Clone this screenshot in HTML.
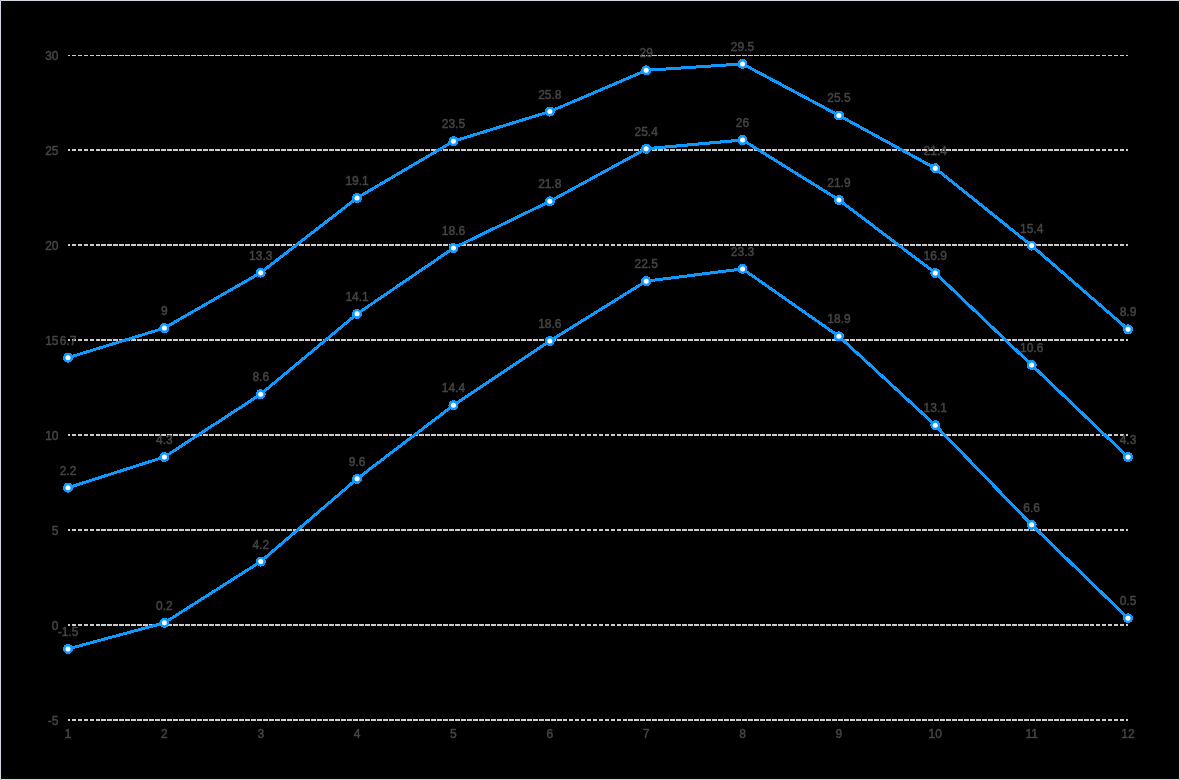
<!DOCTYPE html>
<html><head><meta charset="utf-8"><title>chart</title>
<style>
html,body{margin:0;padding:0;background:#000;}
body{width:1180px;height:780px;overflow:hidden;position:relative;font-family:"Liberation Sans",sans-serif;}
#frame{position:absolute;left:0;top:0;width:1178px;height:778px;border:1px solid #d3d8e0;border-radius:0.7px;background:#000;}
svg{position:absolute;left:0;top:0;display:block;}
text{font-family:"Liberation Sans",sans-serif;font-size:12px;fill:#454545;stroke:#454545;stroke-width:0.45px;}
</style></head><body>
<div id="frame"></div>
<svg width="1180" height="780" viewBox="0 0 1180 780">
<defs><clipPath id="gc"><rect x="68" y="55" width="1060" height="700"/></clipPath></defs>

<g clip-path="url(#gc)" stroke="#cccccc" stroke-width="2" stroke-dasharray="4.872 1.1167" stroke-dashoffset="2.44" shape-rendering="crispEdges">
<line x1="68" y1="55" x2="1128" y2="55"/>
<line x1="68" y1="150" x2="1128" y2="150"/>
<line x1="68" y1="245" x2="1128" y2="245"/>
<line x1="68" y1="340" x2="1128" y2="340"/>
<line x1="68" y1="435" x2="1128" y2="435"/>
<line x1="68" y1="530" x2="1128" y2="530"/>
<line x1="68" y1="625" x2="1128" y2="625"/>
<line x1="68" y1="720" x2="1128" y2="720"/>
</g>
<g style="filter:grayscale(1)">
<g text-anchor="end">
<text x="58.5" y="60.4">30</text>
<text x="58.5" y="155.4">25</text>
<text x="58.5" y="250.4">20</text>
<text x="58.5" y="345.4">15</text>
<text x="58.5" y="440.4">10</text>
<text x="58.5" y="535.4">5</text>
<text x="58.5" y="630.4">0</text>
<text x="58.5" y="725.4">-5</text>
</g>
<g text-anchor="middle">
<text x="68.00" y="738">1</text>
<text x="164.36" y="738">2</text>
<text x="260.73" y="738">3</text>
<text x="357.09" y="738">4</text>
<text x="453.45" y="738">5</text>
<text x="549.82" y="738">6</text>
<text x="646.18" y="738">7</text>
<text x="742.55" y="738">8</text>
<text x="838.91" y="738">9</text>
<text x="935.27" y="738">10</text>
<text x="1031.64" y="738">11</text>
<text x="1128.00" y="738">12</text>
</g>
<g text-anchor="middle">
<text x="68.00" y="635.91">-1.5</text>
<text x="164.36" y="609.86">0.2</text>
<text x="260.73" y="548.57">4.2</text>
<text x="357.09" y="465.83">9.6</text>
<text x="453.45" y="392.27">14.4</text>
<text x="549.82" y="327.92">18.6</text>
<text x="646.18" y="268.16">22.5</text>
<text x="742.55" y="255.90">23.3</text>
<text x="838.91" y="323.32">18.9</text>
<text x="935.27" y="412.19">13.1</text>
<text x="1031.64" y="511.79">6.6</text>
<text x="1128.00" y="605.26">0.5</text>
<text x="68.00" y="474.69">2.2</text>
<text x="164.36" y="444.02">4.3</text>
<text x="260.73" y="381.20">8.6</text>
<text x="357.09" y="300.85">14.1</text>
<text x="453.45" y="235.11">18.6</text>
<text x="549.82" y="188.36">21.8</text>
<text x="646.18" y="135.77">25.4</text>
<text x="742.55" y="127.00">26</text>
<text x="838.91" y="186.90">21.9</text>
<text x="935.27" y="259.94">16.9</text>
<text x="1031.64" y="351.98">10.6</text>
<text x="1128.00" y="444.02">4.3</text>
<text x="68.00" y="344.70">6.7</text>
<text x="164.36" y="315.06">9</text>
<text x="260.73" y="259.65">13.3</text>
<text x="357.09" y="184.91">19.1</text>
<text x="453.45" y="128.22">23.5</text>
<text x="549.82" y="98.58">25.8</text>
<text x="646.18" y="57.34">29</text>
<text x="742.55" y="50.90">29.5</text>
<text x="838.91" y="102.44">25.5</text>
<text x="935.27" y="155.28">21.4</text>
<text x="1031.64" y="232.59">15.4</text>
<text x="1128.00" y="316.35">8.9</text>
</g>
</g>
<polyline points="68.00,648.91 164.36,622.86 260.73,561.57 357.09,478.83 453.45,405.27 549.82,340.92 646.18,281.16 742.55,268.90 838.91,336.32 935.27,425.19 1031.64,524.79 1128.00,618.26" fill="none" stroke="#0e99ff" stroke-width="3" stroke-linejoin="round" stroke-linecap="round" shape-rendering="crispEdges"/>
<polyline points="68.00,487.69 164.36,457.02 260.73,394.20 357.09,313.85 453.45,248.11 549.82,201.36 646.18,148.77 742.55,140.00 838.91,199.90 935.27,272.94 1031.64,364.98 1128.00,457.02" fill="none" stroke="#0e99ff" stroke-width="3" stroke-linejoin="round" stroke-linecap="round" shape-rendering="crispEdges"/>
<polyline points="68.00,357.70 164.36,328.06 260.73,272.65 357.09,197.91 453.45,141.22 549.82,111.58 646.18,70.34 742.55,63.90 838.91,115.44 935.27,168.28 1031.64,245.59 1128.00,329.35" fill="none" stroke="#0e99ff" stroke-width="3" stroke-linejoin="round" stroke-linecap="round" shape-rendering="crispEdges"/>
<g shape-rendering="crispEdges">
<circle cx="68.00" cy="648.91" r="5" fill="#0e99ff"/><circle cx="68.00" cy="648.91" r="2.5" fill="#ffffff" shape-rendering="geometricPrecision"/>
<circle cx="164.36" cy="622.86" r="5" fill="#0e99ff"/><circle cx="164.36" cy="622.86" r="2.5" fill="#ffffff" shape-rendering="geometricPrecision"/>
<circle cx="260.73" cy="561.57" r="5" fill="#0e99ff"/><circle cx="260.73" cy="561.57" r="2.5" fill="#ffffff" shape-rendering="geometricPrecision"/>
<circle cx="357.09" cy="478.83" r="5" fill="#0e99ff"/><circle cx="357.09" cy="478.83" r="2.5" fill="#ffffff" shape-rendering="geometricPrecision"/>
<circle cx="453.45" cy="405.27" r="5" fill="#0e99ff"/><circle cx="453.45" cy="405.27" r="2.5" fill="#ffffff" shape-rendering="geometricPrecision"/>
<circle cx="549.82" cy="340.92" r="5" fill="#0e99ff"/><circle cx="549.82" cy="340.92" r="2.5" fill="#ffffff" shape-rendering="geometricPrecision"/>
<circle cx="646.18" cy="281.16" r="5" fill="#0e99ff"/><circle cx="646.18" cy="281.16" r="2.5" fill="#ffffff" shape-rendering="geometricPrecision"/>
<circle cx="742.55" cy="268.90" r="5" fill="#0e99ff"/><circle cx="742.55" cy="268.90" r="2.5" fill="#ffffff" shape-rendering="geometricPrecision"/>
<circle cx="838.91" cy="336.32" r="5" fill="#0e99ff"/><circle cx="838.91" cy="336.32" r="2.5" fill="#ffffff" shape-rendering="geometricPrecision"/>
<circle cx="935.27" cy="425.19" r="5" fill="#0e99ff"/><circle cx="935.27" cy="425.19" r="2.5" fill="#ffffff" shape-rendering="geometricPrecision"/>
<circle cx="1031.64" cy="524.79" r="5" fill="#0e99ff"/><circle cx="1031.64" cy="524.79" r="2.5" fill="#ffffff" shape-rendering="geometricPrecision"/>
<circle cx="1128.00" cy="618.26" r="5" fill="#0e99ff"/><circle cx="1128.00" cy="618.26" r="2.5" fill="#ffffff" shape-rendering="geometricPrecision"/>
</g>
<g shape-rendering="crispEdges">
<circle cx="68.00" cy="487.69" r="5" fill="#0e99ff"/><circle cx="68.00" cy="487.69" r="2.5" fill="#ffffff" shape-rendering="geometricPrecision"/>
<circle cx="164.36" cy="457.02" r="5" fill="#0e99ff"/><circle cx="164.36" cy="457.02" r="2.5" fill="#ffffff" shape-rendering="geometricPrecision"/>
<circle cx="260.73" cy="394.20" r="5" fill="#0e99ff"/><circle cx="260.73" cy="394.20" r="2.5" fill="#ffffff" shape-rendering="geometricPrecision"/>
<circle cx="357.09" cy="313.85" r="5" fill="#0e99ff"/><circle cx="357.09" cy="313.85" r="2.5" fill="#ffffff" shape-rendering="geometricPrecision"/>
<circle cx="453.45" cy="248.11" r="5" fill="#0e99ff"/><circle cx="453.45" cy="248.11" r="2.5" fill="#ffffff" shape-rendering="geometricPrecision"/>
<circle cx="549.82" cy="201.36" r="5" fill="#0e99ff"/><circle cx="549.82" cy="201.36" r="2.5" fill="#ffffff" shape-rendering="geometricPrecision"/>
<circle cx="646.18" cy="148.77" r="5" fill="#0e99ff"/><circle cx="646.18" cy="148.77" r="2.5" fill="#ffffff" shape-rendering="geometricPrecision"/>
<circle cx="742.55" cy="140.00" r="5" fill="#0e99ff"/><circle cx="742.55" cy="140.00" r="2.5" fill="#ffffff" shape-rendering="geometricPrecision"/>
<circle cx="838.91" cy="199.90" r="5" fill="#0e99ff"/><circle cx="838.91" cy="199.90" r="2.5" fill="#ffffff" shape-rendering="geometricPrecision"/>
<circle cx="935.27" cy="272.94" r="5" fill="#0e99ff"/><circle cx="935.27" cy="272.94" r="2.5" fill="#ffffff" shape-rendering="geometricPrecision"/>
<circle cx="1031.64" cy="364.98" r="5" fill="#0e99ff"/><circle cx="1031.64" cy="364.98" r="2.5" fill="#ffffff" shape-rendering="geometricPrecision"/>
<circle cx="1128.00" cy="457.02" r="5" fill="#0e99ff"/><circle cx="1128.00" cy="457.02" r="2.5" fill="#ffffff" shape-rendering="geometricPrecision"/>
</g>
<g shape-rendering="crispEdges">
<circle cx="68.00" cy="357.70" r="5" fill="#0e99ff"/><circle cx="68.00" cy="357.70" r="2.5" fill="#ffffff" shape-rendering="geometricPrecision"/>
<circle cx="164.36" cy="328.06" r="5" fill="#0e99ff"/><circle cx="164.36" cy="328.06" r="2.5" fill="#ffffff" shape-rendering="geometricPrecision"/>
<circle cx="260.73" cy="272.65" r="5" fill="#0e99ff"/><circle cx="260.73" cy="272.65" r="2.5" fill="#ffffff" shape-rendering="geometricPrecision"/>
<circle cx="357.09" cy="197.91" r="5" fill="#0e99ff"/><circle cx="357.09" cy="197.91" r="2.5" fill="#ffffff" shape-rendering="geometricPrecision"/>
<circle cx="453.45" cy="141.22" r="5" fill="#0e99ff"/><circle cx="453.45" cy="141.22" r="2.5" fill="#ffffff" shape-rendering="geometricPrecision"/>
<circle cx="549.82" cy="111.58" r="5" fill="#0e99ff"/><circle cx="549.82" cy="111.58" r="2.5" fill="#ffffff" shape-rendering="geometricPrecision"/>
<circle cx="646.18" cy="70.34" r="5" fill="#0e99ff"/><circle cx="646.18" cy="70.34" r="2.5" fill="#ffffff" shape-rendering="geometricPrecision"/>
<circle cx="742.55" cy="63.90" r="5" fill="#0e99ff"/><circle cx="742.55" cy="63.90" r="2.5" fill="#ffffff" shape-rendering="geometricPrecision"/>
<circle cx="838.91" cy="115.44" r="5" fill="#0e99ff"/><circle cx="838.91" cy="115.44" r="2.5" fill="#ffffff" shape-rendering="geometricPrecision"/>
<circle cx="935.27" cy="168.28" r="5" fill="#0e99ff"/><circle cx="935.27" cy="168.28" r="2.5" fill="#ffffff" shape-rendering="geometricPrecision"/>
<circle cx="1031.64" cy="245.59" r="5" fill="#0e99ff"/><circle cx="1031.64" cy="245.59" r="2.5" fill="#ffffff" shape-rendering="geometricPrecision"/>
<circle cx="1128.00" cy="329.35" r="5" fill="#0e99ff"/><circle cx="1128.00" cy="329.35" r="2.5" fill="#ffffff" shape-rendering="geometricPrecision"/>
</g>
</svg></body></html>
